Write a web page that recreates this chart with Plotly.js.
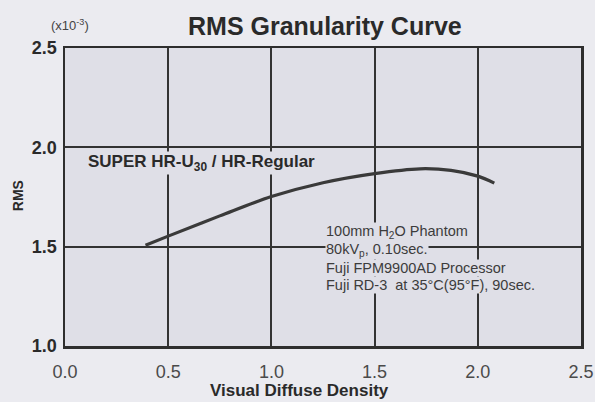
<!DOCTYPE html>
<html>
<head>
<meta charset="utf-8">
<script src="https://cdn.plot.ly/plotly-3.0.1.min.js"></script>
<style>html,body{margin:0;padding:0;background:#ebebf0;}#chart{width:595px;height:402px;}</style>
</head>
<body>
<div id="chart"></div>
<script>
// Visual diffuse density (x) and RMS granularity (x10^-3)
const density = [0.39, 0.5, 0.75, 1.0, 1.25, 1.5, 1.72, 1.87, 2.0, 2.08];
const rms     = [1.507, 1.553, 1.655, 1.752, 1.822, 1.868, 1.892, 1.884, 1.855, 1.82];

const xTickVals = [0.0, 0.5, 1.0, 1.5, 2.0, 2.5];
const xTickText = ['0.0', '0.5', '1.0', '1.5', '2.0', '2.5'];
const yTickVals = [1.0, 1.5, 2.0, 2.5];
const yTickText = ['1.0', '1.5', '2.0', '2.5'];

const seriesLabel = 'SUPER HR-U<sub>30</sub> / HR-Regular';
const noteLines = [
  '100mm H<sub>2</sub>O Phantom',
  '80kV<sub>p</sub>, 0.10sec.',
  'Fuji FPM9900AD Processor',
  'Fuji RD-3  at 35°C(95°F), 90sec.'
];
const noteY = [1.576, 1.485, 1.393, 1.305];

const FONT = '"Liberation Sans", Arial, sans-serif';
const PLOTBG = '#dfdfe7';
const INK = '#2e2e2e';

const trace = {
  x: density, y: rms, type: 'scatter', mode: 'lines',
  line: {color: '#3a3a3a', width: 3.2, shape: 'spline', smoothing: 1.0},
  hoverinfo: 'skip', showlegend: false
};

const annotations = [
  {text: seriesLabel, x: 0.107, y: 1.921, xref: 'x', yref: 'y', xanchor: 'left', yanchor: 'middle',
   showarrow: false, font: {family: FONT, size: 17, color: '#2a2a2a', weight: 'bold'},
   bgcolor: PLOTBG, borderpad: 0},
  {text: '(x10<sup>-3</sup>)', x: 0.01, y: 1.077, xref: 'paper', yref: 'paper', xanchor: 'center', yanchor: 'middle',
   showarrow: false, font: {family: FONT, size: 13, color: '#444'}},
  {text: 'Visual Diffuse Density', x: 0.455, y: -0.151, xref: 'paper', yref: 'paper', xanchor: 'center', yanchor: 'middle',
   showarrow: false, font: {family: FONT, size: 17, color: '#2a2a2a', weight: 'bold'}},
  {text: 'RMS', x: -0.091, y: 0.503, xref: 'paper', yref: 'paper', xanchor: 'center', yanchor: 'middle',
   textangle: -90, showarrow: false, font: {family: FONT, size: 14, color: '#2a2a2a', weight: 'bold'}}
];
noteLines.forEach((t, i) => annotations.push({
  text: t, x: 1.26, y: noteY[i], xref: 'x', yref: 'y', xanchor: 'left', yanchor: 'middle',
  showarrow: false, font: {family: FONT, size: 14.5, color: '#3c3c3c'}, bgcolor: PLOTBG, borderpad: 0
}));

const layout = {
  width: 595, height: 402,
  margin: {l: 65, r: 14, t: 48, b: 56},
  paper_bgcolor: '#ebebf0', plot_bgcolor: PLOTBG,
  title: {text: 'RMS Granularity Curve', x: 0.546, xref: 'container', xanchor: 'center',
          y: 0.935, yref: 'container', yanchor: 'middle',
          font: {family: FONT, size: 25, color: '#2a2a2a', weight: 'bold'}},
  xaxis: {range: [0, 2.5], tickvals: xTickVals, ticktext: xTickText, ticks: '',
          showgrid: true, gridcolor: '#333', gridwidth: 2, zeroline: false,
          showline: true, mirror: true, linecolor: INK, linewidth: 2.5,
          ticklabelstandoff: 8, tickfont: {family: FONT, size: 18, color: '#4a4a4a'}},
  yaxis: {range: [1.0, 2.5], tickvals: yTickVals, ticktext: yTickText, ticks: '',
          showgrid: true, gridcolor: '#333', gridwidth: 2, zeroline: false,
          showline: true, mirror: true, linecolor: INK, linewidth: 2.5,
          ticklabelstandoff: 2, tickfont: {family: FONT, size: 18, color: '#2a2a2a', weight: 'bold'}},
  annotations: annotations,
  showlegend: false
};

Plotly.newPlot('chart', [trace], layout, {displayModeBar: false, staticPlot: true});
</script>
</body>
</html>
